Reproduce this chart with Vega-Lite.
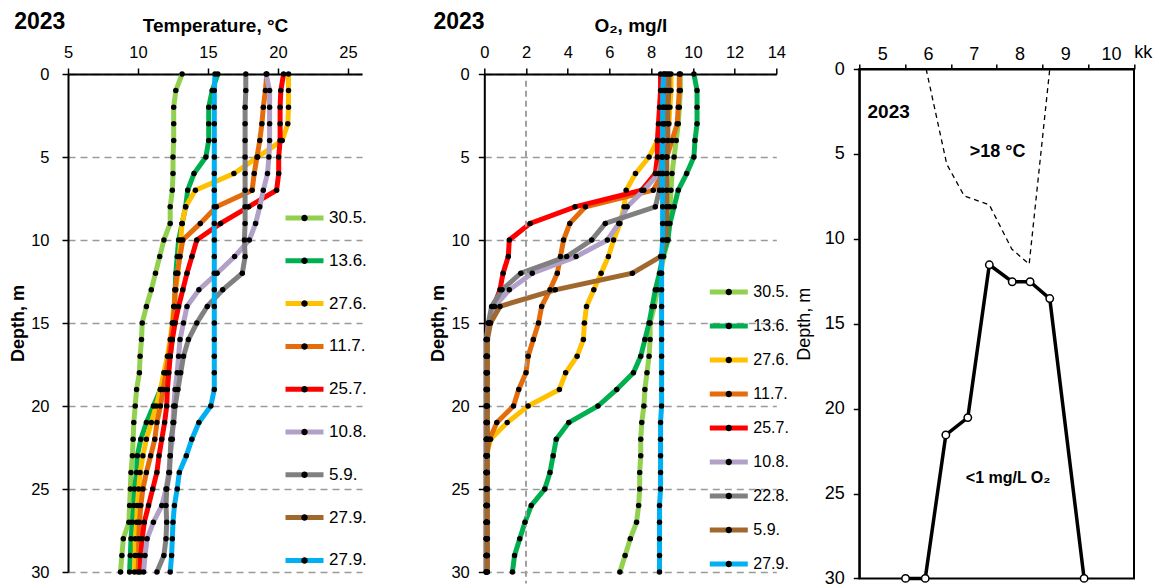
{
"$schema":"https://vega.github.io/schema/vega-lite/v6.json",
"padding":{"left":9,"top":11,"right":0,"bottom":0},
"config":{"font":"Liberation Sans","view":{"stroke":null},
"axis":{"labelFlush":false,"labelOverlap":false,"labelColor":"black","titleColor":"black","domainColor":"black","tickColor":"black","domainWidth":2,"tickWidth":1.5,"grid":false,"labelFont":"Liberation Sans","titleFont":"Liberation Sans"},
"legend":{"labelFont":"Liberation Sans","labelColor":"black"},
"text":{"font":"Liberation Sans","color":"black"}},
"datasets":{
"temp":[
{"s":"a","d":0,"v":13.15},{"s":"a","d":1,"v":12.7},{"s":"a","d":2,"v":12.55},{"s":"a","d":3,"v":12.55},{"s":"a","d":4,"v":12.55},{"s":"a","d":5,"v":12.5},{"s":"a","d":6,"v":12.5},{"s":"a","d":7,"v":12.45},{"s":"a","d":8,"v":12.3},{"s":"a","d":9,"v":12.3},{"s":"a","d":10,"v":11.85},{"s":"a","d":11,"v":11.55},{"s":"a","d":12,"v":11.25},{"s":"a","d":13,"v":10.95},{"s":"a","d":14,"v":10.6},{"s":"a","d":15,"v":10.3},{"s":"a","d":16,"v":10.25},{"s":"a","d":17,"v":10.15},{"s":"a","d":18,"v":10.1},{"s":"a","d":19,"v":9.9},{"s":"a","d":20,"v":9.8},{"s":"a","d":21,"v":9.7},{"s":"a","d":22,"v":9.65},{"s":"a","d":23,"v":9.6},{"s":"a","d":24,"v":9.5},{"s":"a","d":25,"v":9.45},{"s":"a","d":26,"v":9.4},{"s":"a","d":27,"v":9.35},{"s":"a","d":28,"v":8.95},{"s":"a","d":29,"v":8.85},{"s":"a","d":30,"v":8.75},
{"s":"b","d":0,"v":15.7},{"s":"b","d":1,"v":15.3},{"s":"b","d":2,"v":15.05},{"s":"b","d":3,"v":15.05},{"s":"b","d":4,"v":15.05},{"s":"b","d":5,"v":14.85},{"s":"b","d":6,"v":14.0},{"s":"b","d":7,"v":13.55},{"s":"b","d":8,"v":13.4},{"s":"b","d":9,"v":13.15},{"s":"b","d":10,"v":12.9},{"s":"b","d":11,"v":12.8},{"s":"b","d":12,"v":12.7},{"s":"b","d":13,"v":12.65},{"s":"b","d":14,"v":12.6},{"s":"b","d":15,"v":12.55},{"s":"b","d":16,"v":12.45},{"s":"b","d":17,"v":12.3},{"s":"b","d":18,"v":12.0},{"s":"b","d":19,"v":11.6},{"s":"b","d":20,"v":11.1},{"s":"b","d":21,"v":10.6},{"s":"b","d":22,"v":10.2},{"s":"b","d":23,"v":9.95},{"s":"b","d":24,"v":9.9},{"s":"b","d":25,"v":9.75},{"s":"b","d":26,"v":9.7},{"s":"b","d":27,"v":9.6},{"s":"b","d":28,"v":9.5},{"s":"b","d":29,"v":9.45},{"s":"b","d":30,"v":9.4},
{"s":"c","d":0,"v":20.75},{"s":"c","d":1,"v":20.75},{"s":"c","d":2,"v":20.75},{"s":"c","d":3,"v":20.7},{"s":"c","d":4,"v":20.3},{"s":"c","d":5,"v":18.55},{"s":"c","d":6,"v":16.85},{"s":"c","d":7,"v":14.1},{"s":"c","d":8,"v":13.4},{"s":"c","d":9,"v":13.15},{"s":"c","d":10,"v":13.05},{"s":"c","d":11,"v":12.95},{"s":"c","d":12,"v":12.85},{"s":"c","d":13,"v":12.7},{"s":"c","d":14,"v":12.55},{"s":"c","d":15,"v":12.45},{"s":"c","d":16,"v":12.3},{"s":"c","d":17,"v":12.1},{"s":"c","d":18,"v":11.85},{"s":"c","d":19,"v":11.6},{"s":"c","d":20,"v":11.3},{"s":"c","d":21,"v":10.95},{"s":"c","d":22,"v":10.6},{"s":"c","d":23,"v":10.35},{"s":"c","d":24,"v":10.15},{"s":"c","d":25,"v":10.05},{"s":"c","d":26,"v":9.95},{"s":"c","d":27,"v":9.9},{"s":"c","d":28,"v":9.8},{"s":"c","d":29,"v":9.8},{"s":"c","d":30,"v":9.75},
{"s":"d","d":0,"v":19.2},{"s":"d","d":1,"v":19.1},{"s":"d","d":2,"v":18.95},{"s":"d","d":3,"v":18.85},{"s":"d","d":4,"v":18.7},{"s":"d","d":5,"v":18.5},{"s":"d","d":6,"v":18.3},{"s":"d","d":7,"v":18.15},{"s":"d","d":8,"v":15.6},{"s":"d","d":9,"v":14.45},{"s":"d","d":10,"v":13.2},{"s":"d","d":11,"v":13.0},{"s":"d","d":12,"v":12.8},{"s":"d","d":13,"v":12.65},{"s":"d","d":14,"v":12.6},{"s":"d","d":15,"v":12.5},{"s":"d","d":16,"v":12.35},{"s":"d","d":17,"v":12.2},{"s":"d","d":18,"v":12.0},{"s":"d","d":19,"v":11.8},{"s":"d","d":20,"v":11.6},{"s":"d","d":21,"v":11.35},{"s":"d","d":22,"v":11.2},{"s":"d","d":23,"v":10.9},{"s":"d","d":24,"v":10.6},{"s":"d","d":25,"v":10.35},{"s":"d","d":26,"v":10.2},{"s":"d","d":27,"v":10.1},{"s":"d","d":28,"v":10.05},{"s":"d","d":29,"v":10.05},{"s":"d","d":30,"v":10.0},
{"s":"e","d":0,"v":20.4},{"s":"e","d":1,"v":20.2},{"s":"e","d":2,"v":20.15},{"s":"e","d":3,"v":20.15},{"s":"e","d":4,"v":20.15},{"s":"e","d":5,"v":20.05},{"s":"e","d":6,"v":20.05},{"s":"e","d":7,"v":19.9},{"s":"e","d":8,"v":17.9},{"s":"e","d":9,"v":15.9},{"s":"e","d":10,"v":14.2},{"s":"e","d":11,"v":13.85},{"s":"e","d":12,"v":13.5},{"s":"e","d":13,"v":13.2},{"s":"e","d":14,"v":12.9},{"s":"e","d":15,"v":12.65},{"s":"e","d":16,"v":12.45},{"s":"e","d":17,"v":12.3},{"s":"e","d":18,"v":12.2},{"s":"e","d":19,"v":12.1},{"s":"e","d":20,"v":12.05},{"s":"e","d":21,"v":11.9},{"s":"e","d":22,"v":11.7},{"s":"e","d":23,"v":11.5},{"s":"e","d":24,"v":11.35},{"s":"e","d":25,"v":11.05},{"s":"e","d":26,"v":10.75},{"s":"e","d":27,"v":10.45},{"s":"e","d":28,"v":10.3},{"s":"e","d":29,"v":10.2},{"s":"e","d":30,"v":10.15},
{"s":"f","d":0,"v":19.15},{"s":"f","d":1,"v":19.4},{"s":"f","d":2,"v":19.4},{"s":"f","d":3,"v":19.4},{"s":"f","d":4,"v":19.4},{"s":"f","d":5,"v":19.35},{"s":"f","d":6,"v":19.25},{"s":"f","d":7,"v":18.95},{"s":"f","d":8,"v":18.7},{"s":"f","d":9,"v":18.4},{"s":"f","d":10,"v":17.95},{"s":"f","d":11,"v":16.9},{"s":"f","d":12,"v":15.65},{"s":"f","d":13,"v":14.35},{"s":"f","d":14,"v":13.5},{"s":"f","d":15,"v":13.25},{"s":"f","d":16,"v":13.0},{"s":"f","d":17,"v":12.9},{"s":"f","d":18,"v":12.8},{"s":"f","d":19,"v":12.65},{"s":"f","d":20,"v":12.55},{"s":"f","d":21,"v":12.5},{"s":"f","d":22,"v":12.45},{"s":"f","d":23,"v":12.3},{"s":"f","d":24,"v":12.2},{"s":"f","d":25,"v":12.0},{"s":"f","d":26,"v":11.7},{"s":"f","d":27,"v":11.1},{"s":"f","d":28,"v":10.65},{"s":"f","d":29,"v":10.5},{"s":"f","d":30,"v":10.4},
{"s":"g","d":0,"v":17.7},{"s":"g","d":1,"v":17.7},{"s":"g","d":2,"v":17.65},{"s":"g","d":3,"v":17.65},{"s":"g","d":4,"v":17.65},{"s":"g","d":5,"v":17.65},{"s":"g","d":6,"v":17.65},{"s":"g","d":7,"v":17.65},{"s":"g","d":8,"v":17.65},{"s":"g","d":9,"v":17.65},{"s":"g","d":10,"v":17.6},{"s":"g","d":11,"v":17.65},{"s":"g","d":12,"v":17.45},{"s":"g","d":13,"v":16.05},{"s":"g","d":14,"v":14.95},{"s":"g","d":15,"v":14.2},{"s":"g","d":16,"v":13.6},{"s":"g","d":17,"v":13.25},{"s":"g","d":18,"v":13.05},{"s":"g","d":19,"v":12.85},{"s":"g","d":20,"v":12.65},{"s":"g","d":21,"v":12.55},{"s":"g","d":22,"v":12.35},{"s":"g","d":23,"v":12.3},{"s":"g","d":24,"v":12.25},{"s":"g","d":25,"v":12.05},{"s":"g","d":26,"v":12.0},{"s":"g","d":27,"v":12.05},{"s":"g","d":28,"v":12.0},{"s":"g","d":29,"v":11.85},{"s":"g","d":30,"v":11.35},
{"s":"i","d":0,"v":15.5},{"s":"i","d":1,"v":15.45},{"s":"i","d":2,"v":15.45},{"s":"i","d":3,"v":15.45},{"s":"i","d":4,"v":15.45},{"s":"i","d":5,"v":15.45},{"s":"i","d":6,"v":15.45},{"s":"i","d":7,"v":15.45},{"s":"i","d":8,"v":15.45},{"s":"i","d":9,"v":15.45},{"s":"i","d":10,"v":15.45},{"s":"i","d":11,"v":15.45},{"s":"i","d":12,"v":15.45},{"s":"i","d":13,"v":15.45},{"s":"i","d":14,"v":15.45},{"s":"i","d":15,"v":15.45},{"s":"i","d":16,"v":15.45},{"s":"i","d":17,"v":15.45},{"s":"i","d":18,"v":15.45},{"s":"i","d":19,"v":15.45},{"s":"i","d":20,"v":15.2},{"s":"i","d":21,"v":14.35},{"s":"i","d":22,"v":13.85},{"s":"i","d":23,"v":13.45},{"s":"i","d":24,"v":12.95},{"s":"i","d":25,"v":12.8},{"s":"i","d":26,"v":12.6},{"s":"i","d":27,"v":12.5},{"s":"i","d":28,"v":12.45},{"s":"i","d":29,"v":12.4},{"s":"i","d":30,"v":12.3}
],
"oxy":[
{"s":"a","d":0,"v":9.4},{"s":"a","d":1,"v":9.4},{"s":"a","d":2,"v":9.35},{"s":"a","d":3,"v":9.3},{"s":"a","d":4,"v":9.2},{"s":"a","d":5,"v":9.1},{"s":"a","d":6,"v":9.0},{"s":"a","d":7,"v":8.95},{"s":"a","d":8,"v":8.9},{"s":"a","d":9,"v":8.85},{"s":"a","d":10,"v":8.8},{"s":"a","d":11,"v":8.6},{"s":"a","d":12,"v":8.45},{"s":"a","d":13,"v":8.3},{"s":"a","d":14,"v":8.15},{"s":"a","d":15,"v":7.95},{"s":"a","d":16,"v":7.95},{"s":"a","d":17,"v":7.9},{"s":"a","d":18,"v":7.8},{"s":"a","d":19,"v":7.7},{"s":"a","d":20,"v":7.65},{"s":"a","d":21,"v":7.55},{"s":"a","d":22,"v":7.5},{"s":"a","d":23,"v":7.5},{"s":"a","d":24,"v":7.45},{"s":"a","d":25,"v":7.45},{"s":"a","d":26,"v":7.4},{"s":"a","d":27,"v":7.3},{"s":"a","d":28,"v":7.0},{"s":"a","d":29,"v":6.75},{"s":"a","d":30,"v":6.5},
{"s":"b","d":0,"v":10.05},{"s":"b","d":1,"v":10.2},{"s":"b","d":2,"v":10.2},{"s":"b","d":3,"v":10.2},{"s":"b","d":4,"v":10.1},{"s":"b","d":5,"v":10.05},{"s":"b","d":6,"v":9.7},{"s":"b","d":7,"v":9.3},{"s":"b","d":8,"v":9.1},{"s":"b","d":9,"v":8.9},{"s":"b","d":10,"v":8.8},{"s":"b","d":11,"v":8.55},{"s":"b","d":12,"v":8.4},{"s":"b","d":13,"v":8.2},{"s":"b","d":14,"v":8.05},{"s":"b","d":15,"v":7.9},{"s":"b","d":16,"v":7.7},{"s":"b","d":17,"v":7.5},{"s":"b","d":18,"v":7.15},{"s":"b","d":19,"v":6.35},{"s":"b","d":20,"v":5.45},{"s":"b","d":21,"v":4.05},{"s":"b","d":22,"v":3.45},{"s":"b","d":23,"v":3.3},{"s":"b","d":24,"v":3.15},{"s":"b","d":25,"v":2.9},{"s":"b","d":26,"v":2.25},{"s":"b","d":27,"v":1.95},{"s":"b","d":28,"v":1.7},{"s":"b","d":29,"v":1.45},{"s":"b","d":30,"v":1.35},
{"s":"c","d":0,"v":8.95},{"s":"c","d":1,"v":8.95},{"s":"c","d":2,"v":8.9},{"s":"c","d":3,"v":8.85},{"s":"c","d":4,"v":8.3},{"s":"c","d":5,"v":7.9},{"s":"c","d":6,"v":7.25},{"s":"c","d":7,"v":6.8},{"s":"c","d":8,"v":6.7},{"s":"c","d":9,"v":6.5},{"s":"c","d":10,"v":6.2},{"s":"c","d":11,"v":5.95},{"s":"c","d":12,"v":5.6},{"s":"c","d":13,"v":5.25},{"s":"c","d":14,"v":4.9},{"s":"c","d":15,"v":4.8},{"s":"c","d":16,"v":4.75},{"s":"c","d":17,"v":4.45},{"s":"c","d":18,"v":3.9},{"s":"c","d":19,"v":3.6},{"s":"c","d":20,"v":2.1},{"s":"c","d":21,"v":1.1},{"s":"c","d":22,"v":0.3},{"s":"c","d":23,"v":0.1},{"s":"c","d":24,"v":0.1},{"s":"c","d":25,"v":0.1},{"s":"c","d":26,"v":0.1},{"s":"c","d":27,"v":0.1},{"s":"c","d":28,"v":0.1},{"s":"c","d":29,"v":0.1},{"s":"c","d":30,"v":0.1},
{"s":"d","d":0,"v":9.35},{"s":"d","d":1,"v":9.35},{"s":"d","d":2,"v":9.3},{"s":"d","d":3,"v":9.25},{"s":"d","d":4,"v":9.0},{"s":"d","d":5,"v":8.75},{"s":"d","d":6,"v":8.55},{"s":"d","d":7,"v":8.1},{"s":"d","d":8,"v":4.85},{"s":"d","d":9,"v":4.1},{"s":"d","d":10,"v":3.8},{"s":"d","d":11,"v":3.65},{"s":"d","d":12,"v":3.5},{"s":"d","d":13,"v":3.15},{"s":"d","d":14,"v":2.75},{"s":"d","d":15,"v":2.6},{"s":"d","d":16,"v":2.35},{"s":"d","d":17,"v":2.1},{"s":"d","d":18,"v":2.0},{"s":"d","d":19,"v":1.65},{"s":"d","d":20,"v":1.4},{"s":"d","d":21,"v":0.6},{"s":"d","d":22,"v":0.25},{"s":"d","d":23,"v":0.1},{"s":"d","d":24,"v":0.1},{"s":"d","d":25,"v":0.1},{"s":"d","d":26,"v":0.1},{"s":"d","d":27,"v":0.1},{"s":"d","d":28,"v":0.1},{"s":"d","d":29,"v":0.1},{"s":"d","d":30,"v":0.1},
{"s":"e","d":0,"v":8.45},{"s":"e","d":1,"v":8.45},{"s":"e","d":2,"v":8.4},{"s":"e","d":3,"v":8.35},{"s":"e","d":4,"v":8.3},{"s":"e","d":5,"v":8.3},{"s":"e","d":6,"v":8.2},{"s":"e","d":7,"v":7.55},{"s":"e","d":8,"v":4.35},{"s":"e","d":9,"v":2.2},{"s":"e","d":10,"v":1.2},{"s":"e","d":11,"v":1.15},{"s":"e","d":12,"v":0.9},{"s":"e","d":13,"v":0.75},{"s":"e","d":14,"v":0.45},{"s":"e","d":15,"v":0.2},{"s":"e","d":16,"v":0.1},{"s":"e","d":17,"v":0.1},{"s":"e","d":18,"v":0.1},{"s":"e","d":19,"v":0.1},{"s":"e","d":20,"v":0.1},{"s":"e","d":21,"v":0.1},{"s":"e","d":22,"v":0.1},{"s":"e","d":23,"v":0.1},{"s":"e","d":24,"v":0.1},{"s":"e","d":25,"v":0.1},{"s":"e","d":26,"v":0.1},{"s":"e","d":27,"v":0.1},{"s":"e","d":28,"v":0.1},{"s":"e","d":29,"v":0.1},{"s":"e","d":30,"v":0.1},
{"s":"f","d":0,"v":8.75},{"s":"f","d":1,"v":8.7},{"s":"f","d":2,"v":8.7},{"s":"f","d":3,"v":8.65},{"s":"f","d":4,"v":8.6},{"s":"f","d":5,"v":8.55},{"s":"f","d":6,"v":8.35},{"s":"f","d":7,"v":7.65},{"s":"f","d":8,"v":6.85},{"s":"f","d":9,"v":6.45},{"s":"f","d":10,"v":5.9},{"s":"f","d":11,"v":4.4},{"s":"f","d":12,"v":2.3},{"s":"f","d":13,"v":1.2},{"s":"f","d":14,"v":0.5},{"s":"f","d":15,"v":0.25},{"s":"f","d":16,"v":0.1},{"s":"f","d":17,"v":0.1},{"s":"f","d":18,"v":0.1},{"s":"f","d":19,"v":0.1},{"s":"f","d":20,"v":0.1},{"s":"f","d":21,"v":0.1},{"s":"f","d":22,"v":0.1},{"s":"f","d":23,"v":0.1},{"s":"f","d":24,"v":0.1},{"s":"f","d":25,"v":0.1},{"s":"f","d":26,"v":0.1},{"s":"f","d":27,"v":0.1},{"s":"f","d":28,"v":0.1},{"s":"f","d":29,"v":0.1},{"s":"f","d":30,"v":0.1},
{"s":"g","d":0,"v":8.65},{"s":"g","d":1,"v":8.65},{"s":"g","d":2,"v":8.6},{"s":"g","d":3,"v":8.6},{"s":"g","d":4,"v":8.55},{"s":"g","d":5,"v":8.5},{"s":"g","d":6,"v":8.45},{"s":"g","d":7,"v":8.4},{"s":"g","d":8,"v":8.2},{"s":"g","d":9,"v":5.8},{"s":"g","d":10,"v":5.15},{"s":"g","d":11,"v":3.95},{"s":"g","d":12,"v":1.75},{"s":"g","d":13,"v":0.85},{"s":"g","d":14,"v":0.35},{"s":"g","d":15,"v":0.2},{"s":"g","d":16,"v":0.1},{"s":"g","d":17,"v":0.1},{"s":"g","d":18,"v":0.1},{"s":"g","d":19,"v":0.1},{"s":"g","d":20,"v":0.1},{"s":"g","d":21,"v":0.1},{"s":"g","d":22,"v":0.1},{"s":"g","d":23,"v":0.1},{"s":"g","d":24,"v":0.1},{"s":"g","d":25,"v":0.1},{"s":"g","d":26,"v":0.1},{"s":"g","d":27,"v":0.1},{"s":"g","d":28,"v":0.1},{"s":"g","d":29,"v":0.1},{"s":"g","d":30,"v":0.1},
{"s":"h","d":0,"v":8.85},{"s":"h","d":1,"v":8.85},{"s":"h","d":2,"v":8.8},{"s":"h","d":3,"v":8.8},{"s":"h","d":4,"v":8.8},{"s":"h","d":5,"v":8.75},{"s":"h","d":6,"v":8.75},{"s":"h","d":7,"v":8.75},{"s":"h","d":8,"v":8.75},{"s":"h","d":9,"v":8.75},{"s":"h","d":10,"v":8.7},{"s":"h","d":11,"v":8.45},{"s":"h","d":12,"v":7.1},{"s":"h","d":13,"v":3.4},{"s":"h","d":14,"v":0.75},{"s":"h","d":15,"v":0.3},{"s":"h","d":16,"v":0.15},{"s":"h","d":17,"v":0.15},{"s":"h","d":18,"v":0.15},{"s":"h","d":19,"v":0.15},{"s":"h","d":20,"v":0.15},{"s":"h","d":21,"v":0.15},{"s":"h","d":22,"v":0.15},{"s":"h","d":23,"v":0.15},{"s":"h","d":24,"v":0.15},{"s":"h","d":25,"v":0.15},{"s":"h","d":26,"v":0.15},{"s":"h","d":27,"v":0.15},{"s":"h","d":28,"v":0.15},{"s":"h","d":29,"v":0.15},{"s":"h","d":30,"v":0.15},
{"s":"i","d":0,"v":8.6},{"s":"i","d":1,"v":8.55},{"s":"i","d":2,"v":8.55},{"s":"i","d":3,"v":8.55},{"s":"i","d":4,"v":8.55},{"s":"i","d":5,"v":8.55},{"s":"i","d":6,"v":8.55},{"s":"i","d":7,"v":8.55},{"s":"i","d":8,"v":8.55},{"s":"i","d":9,"v":8.55},{"s":"i","d":10,"v":8.55},{"s":"i","d":11,"v":8.5},{"s":"i","d":12,"v":8.5},{"s":"i","d":13,"v":8.5},{"s":"i","d":14,"v":8.5},{"s":"i","d":15,"v":8.5},{"s":"i","d":16,"v":8.5},{"s":"i","d":17,"v":8.5},{"s":"i","d":18,"v":8.5},{"s":"i","d":19,"v":8.5},{"s":"i","d":20,"v":8.5},{"s":"i","d":21,"v":8.45},{"s":"i","d":22,"v":8.45},{"s":"i","d":23,"v":8.45},{"s":"i","d":24,"v":8.45},{"s":"i","d":25,"v":8.45},{"s":"i","d":26,"v":8.4},{"s":"i","d":27,"v":8.4},{"s":"i","d":28,"v":8.4},{"s":"i","d":29,"v":8.4},{"s":"i","d":30,"v":8.4}
],
"t18":[{"v":5.96,"d":0,"o":1},{"v":6.41,"d":5.6,"o":2},{"v":6.79,"d":7.47,"o":3},{"v":7.34,"d":8.0,"o":4},{"v":7.83,"d":10.6,"o":5},{"v":8.21,"d":11.5,"o":6},{"v":8.66,"d":0,"o":7}],
"lo":[{"v":5.51,"d":30,"o":1},{"v":5.94,"d":30,"o":2},{"v":6.39,"d":21.55,"o":3},{"v":6.87,"d":20.53,"o":4},{"v":7.34,"d":11.53,"o":5},{"v":7.84,"d":12.53,"o":6},{"v":8.23,"d":12.53,"o":7},{"v":8.66,"d":13.52,"o":8},{"v":9.41,"d":30,"o":9}]
},
"hconcat":[
{"vconcat":[
 {"width":1,"height":5,"data":{"values":[]},"mark":"point"},
 {"hconcat":[
  {"width":294,"height":498,"data":{"name":"temp"},
   "layer":[
    {"mark":{"type":"line","strokeWidth":5},
     "encoding":{
      "x":{"field":"v","type":"quantitative","title":"Temperature, °C","scale":{"domain":[5,26],"nice":false,"zero":false},
           "axis":{"orient":"top","values":[5,10,15,20,25],"titleFontSize":19,"titleFontWeight":"bold","labelFontSize":16.5,"tickSize":6,"labelPadding":8,"titlePadding":9}},
      "y":{"field":"d","type":"quantitative","title":"Depth, m","scale":{"domain":[0,30],"reverse":true,"nice":false,"zero":false},
           "axis":{"values":[0,5,10,15,20,25,30],"titleFontSize":18,"titleFontWeight":"bold","labelFontSize":16.5,"tickSize":6,"labelPadding":13,"titlePadding":3,"grid":true,"gridDash":[7,5],"gridColor":"#9a9a9a","gridWidth":1.5}},
      "stroke":{"field":"s","type":"nominal","scale":{"domain":["a","b","c","d","e","f","g","h","i"],"range":["#92D050","#00B050","#FFC000","#E46C0A","#FF0000","#B1A0C7","#808080","#A0682D","#00B0F0"]},
           "legend":{"orient":"none","legendX":215,"legendY":134,"direction":"vertical","title":null,"symbolType":"stroke","symbolSize":1444,"symbolStrokeWidth":5,"clipHeight":20,"labelFontSize":17,"labelOffset":3,"rowPadding":22.8,"labelExpr":"['30.5.','13.6.','27.6.','11.7.','25.7.','10.8.','5.9.','27.9.','27.9.'][indexof('abcdefghi', datum.value)]"}},
      "order":{"field":"d","type":"quantitative"}}},
    {"mark":{"type":"circle","size":30,"opacity":1},
     "encoding":{
      "x":{"field":"v","type":"quantitative","title":"Temperature, °C"},
      "y":{"field":"d","type":"quantitative","title":"Depth, m"},
      "fill":{"field":"s","type":"nominal","scale":{"domain":["a","b","c","d","e","f","g","h","i"],"range":["black","black","black","black","black","black","black","black","black"]},
           "legend":{"orient":"none","legendX":215,"legendY":134,"direction":"vertical","title":null,"symbolType":"M-0.17,0A0.17,0.17,0,1,1,0.17,0A0.17,0.17,0,1,1,-0.17,0Z","symbolSize":1444,"symbolStrokeWidth":5,"symbolStrokeColor":"transparent","clipHeight":20,"labelFontSize":17,"labelOffset":3,"rowPadding":22.8,"labelOpacity":0,"labelExpr":"''"}}}},
    {"data":{"values":[{}]},"mark":{"type":"text","text":"2023","fontSize":23,"fontWeight":"bold","align":"left","baseline":"alphabetic"},
     "encoding":{"x":{"datum":1.16},"y":{"datum":-2.71}}}
   ],
   "resolve":{"legend":{"stroke":"independent","fill":"independent"}}},
  {"width":292,"height":498,"data":{"name":"oxy"},
   "layer":[
    {"mark":{"type":"line","strokeWidth":5},
     "encoding":{
      "x":{"field":"v","type":"quantitative","title":"O₂, mg/l","scale":{"domain":[0,14],"nice":false,"zero":false},
           "axis":{"orient":"top","values":[0,2,4,6,8,10,12,14],"titleFontSize":19,"titleFontWeight":"bold","labelFontSize":16.5,"tickSize":6,"labelPadding":8,"titlePadding":9}},
      "y":{"field":"d","type":"quantitative","title":"Depth, m","scale":{"domain":[0,30],"reverse":true,"nice":false,"zero":false},
           "axis":{"values":[0,5,10,15,20,25,30],"titleFontSize":18,"titleFontWeight":"bold","labelFontSize":16.5,"tickSize":6,"labelPadding":9,"titlePadding":3,"grid":true,"gridDash":[7,5],"gridColor":"#9a9a9a","gridWidth":1.5}},
      "stroke":{"field":"s","type":"nominal","scale":{"domain":["a","b","c","d","e","f","g","h","i"],"range":["#92D050","#00B050","#FFC000","#E46C0A","#FF0000","#B1A0C7","#808080","#A0682D","#00B0F0"]},
           "legend":{"orient":"none","legendX":223,"legendY":208,"direction":"vertical","title":null,"symbolType":"stroke","symbolSize":1444,"symbolStrokeWidth":5,"clipHeight":20,"labelFontSize":16,"labelOffset":3,"rowPadding":14,"labelExpr":"['30.5.','13.6.','27.6.','11.7.','25.7.','10.8.','22.8.','5.9.','27.9.'][indexof('abcdefghi', datum.value)]"}},
      "order":{"field":"d","type":"quantitative"}}},
    {"data":{"values":[{}]},"mark":{"type":"rule","strokeDash":[6,4],"strokeWidth":2,"color":"#a0a0a0"},
     "encoding":{"x":{"datum":2},"y":{"datum":0.4},"y2":{"datum":30.7}}},
    {"mark":{"type":"circle","size":30,"opacity":1},
     "encoding":{
      "x":{"field":"v","type":"quantitative","title":"O₂, mg/l"},
      "y":{"field":"d","type":"quantitative","title":"Depth, m"},
      "fill":{"field":"s","type":"nominal","scale":{"domain":["a","b","c","d","e","f","g","h","i"],"range":["black","black","black","black","black","black","black","black","black"]},
           "legend":{"orient":"none","legendX":223,"legendY":208,"direction":"vertical","title":null,"symbolType":"M-0.17,0A0.17,0.17,0,1,1,0.17,0A0.17,0.17,0,1,1,-0.17,0Z","symbolSize":1444,"symbolStrokeWidth":5,"symbolStrokeColor":"transparent","clipHeight":20,"labelFontSize":16,"labelOffset":3,"rowPadding":14,"labelOpacity":0,"labelExpr":"''"}}}},
    {"data":{"values":[{}]},"mark":{"type":"text","text":"2023","fontSize":23,"fontWeight":"bold","align":"left","baseline":"alphabetic"},
     "encoding":{"x":{"datum":-2.44},"y":{"datum":-2.71}}}
   ],
   "resolve":{"legend":{"stroke":"independent","fill":"independent"}}}
 ],"spacing":122.3,"bounds":"flush"}
],"spacing":0,"bounds":"flush"},
{"width":274.7,"height":509.4,"view":{"stroke":"black","strokeWidth":2},
 "layer":[
  {"data":{"name":"t18"},"mark":{"type":"line","color":"black","strokeWidth":1.3,"strokeDash":[5,4]},
   "encoding":{
    "x":{"field":"v","type":"quantitative","title":"kk","scale":{"domain":[4.5,10.5],"nice":false,"zero":false},
         "axis":{"orient":"top","values":[4.5,5.5,6.5,7.5,8.5,9.5,10.5],"labelOffset":22.9,"labelExpr":"datum.value > 10 ? '' : format(datum.value + 0.5, 'd')","tickSize":5,"labelPadding":1,"labelFontSize":18,"titleFontSize":18,"titleFontWeight":"normal","titleAngle":0,"titleX":283.5,"titleY":-17,"titleBaseline":"middle","titleAlign":"center"}},
    "y":{"field":"d","type":"quantitative","title":"Depth, m","scale":{"domain":[0,30],"reverse":true,"nice":false,"zero":false},
         "axis":{"values":[0,5,10,15,20,25,30],"tickSize":6,"labelPadding":9,"labelFontSize":18,"titleFontSize":18,"titleFontWeight":"normal","titlePadding":11}},
    "order":{"field":"o","type":"quantitative"}}},
  {"data":{"name":"lo"},"mark":{"type":"line","color":"black","strokeWidth":3.5},
   "encoding":{"x":{"field":"v","type":"quantitative","title":"kk"},"y":{"field":"d","type":"quantitative","title":"Depth, m"},"order":{"field":"o","type":"quantitative"}}},
  {"data":{"name":"lo"},"mark":{"type":"point","shape":"circle","filled":true,"fill":"white","stroke":"black","strokeWidth":1.5,"size":55,"opacity":1},
   "encoding":{"x":{"field":"v","type":"quantitative","title":"kk"},"y":{"field":"d","type":"quantitative","title":"Depth, m"}}},
  {"data":{"values":[{}]},"mark":{"type":"text","text":"2023","fontSize":19,"fontWeight":"bold","align":"left","baseline":"alphabetic"},
   "encoding":{"x":{"datum":4.68},"y":{"datum":2.89}}},
  {"data":{"values":[{}]},"mark":{"type":"text","text":">18 °C","fontSize":18,"fontWeight":"bold","align":"center","baseline":"alphabetic"},
   "encoding":{"x":{"datum":7.52},"y":{"datum":5.17}}},
  {"data":{"values":[{}]},"mark":{"type":"text","text":"<1 mg/L O₂","fontSize":16,"fontWeight":"bold","align":"center","baseline":"alphabetic"},
   "encoding":{"x":{"datum":7.75},"y":{"datum":24.36}}}
 ]}
],
"spacing":3.3,"bounds":"full"
}
